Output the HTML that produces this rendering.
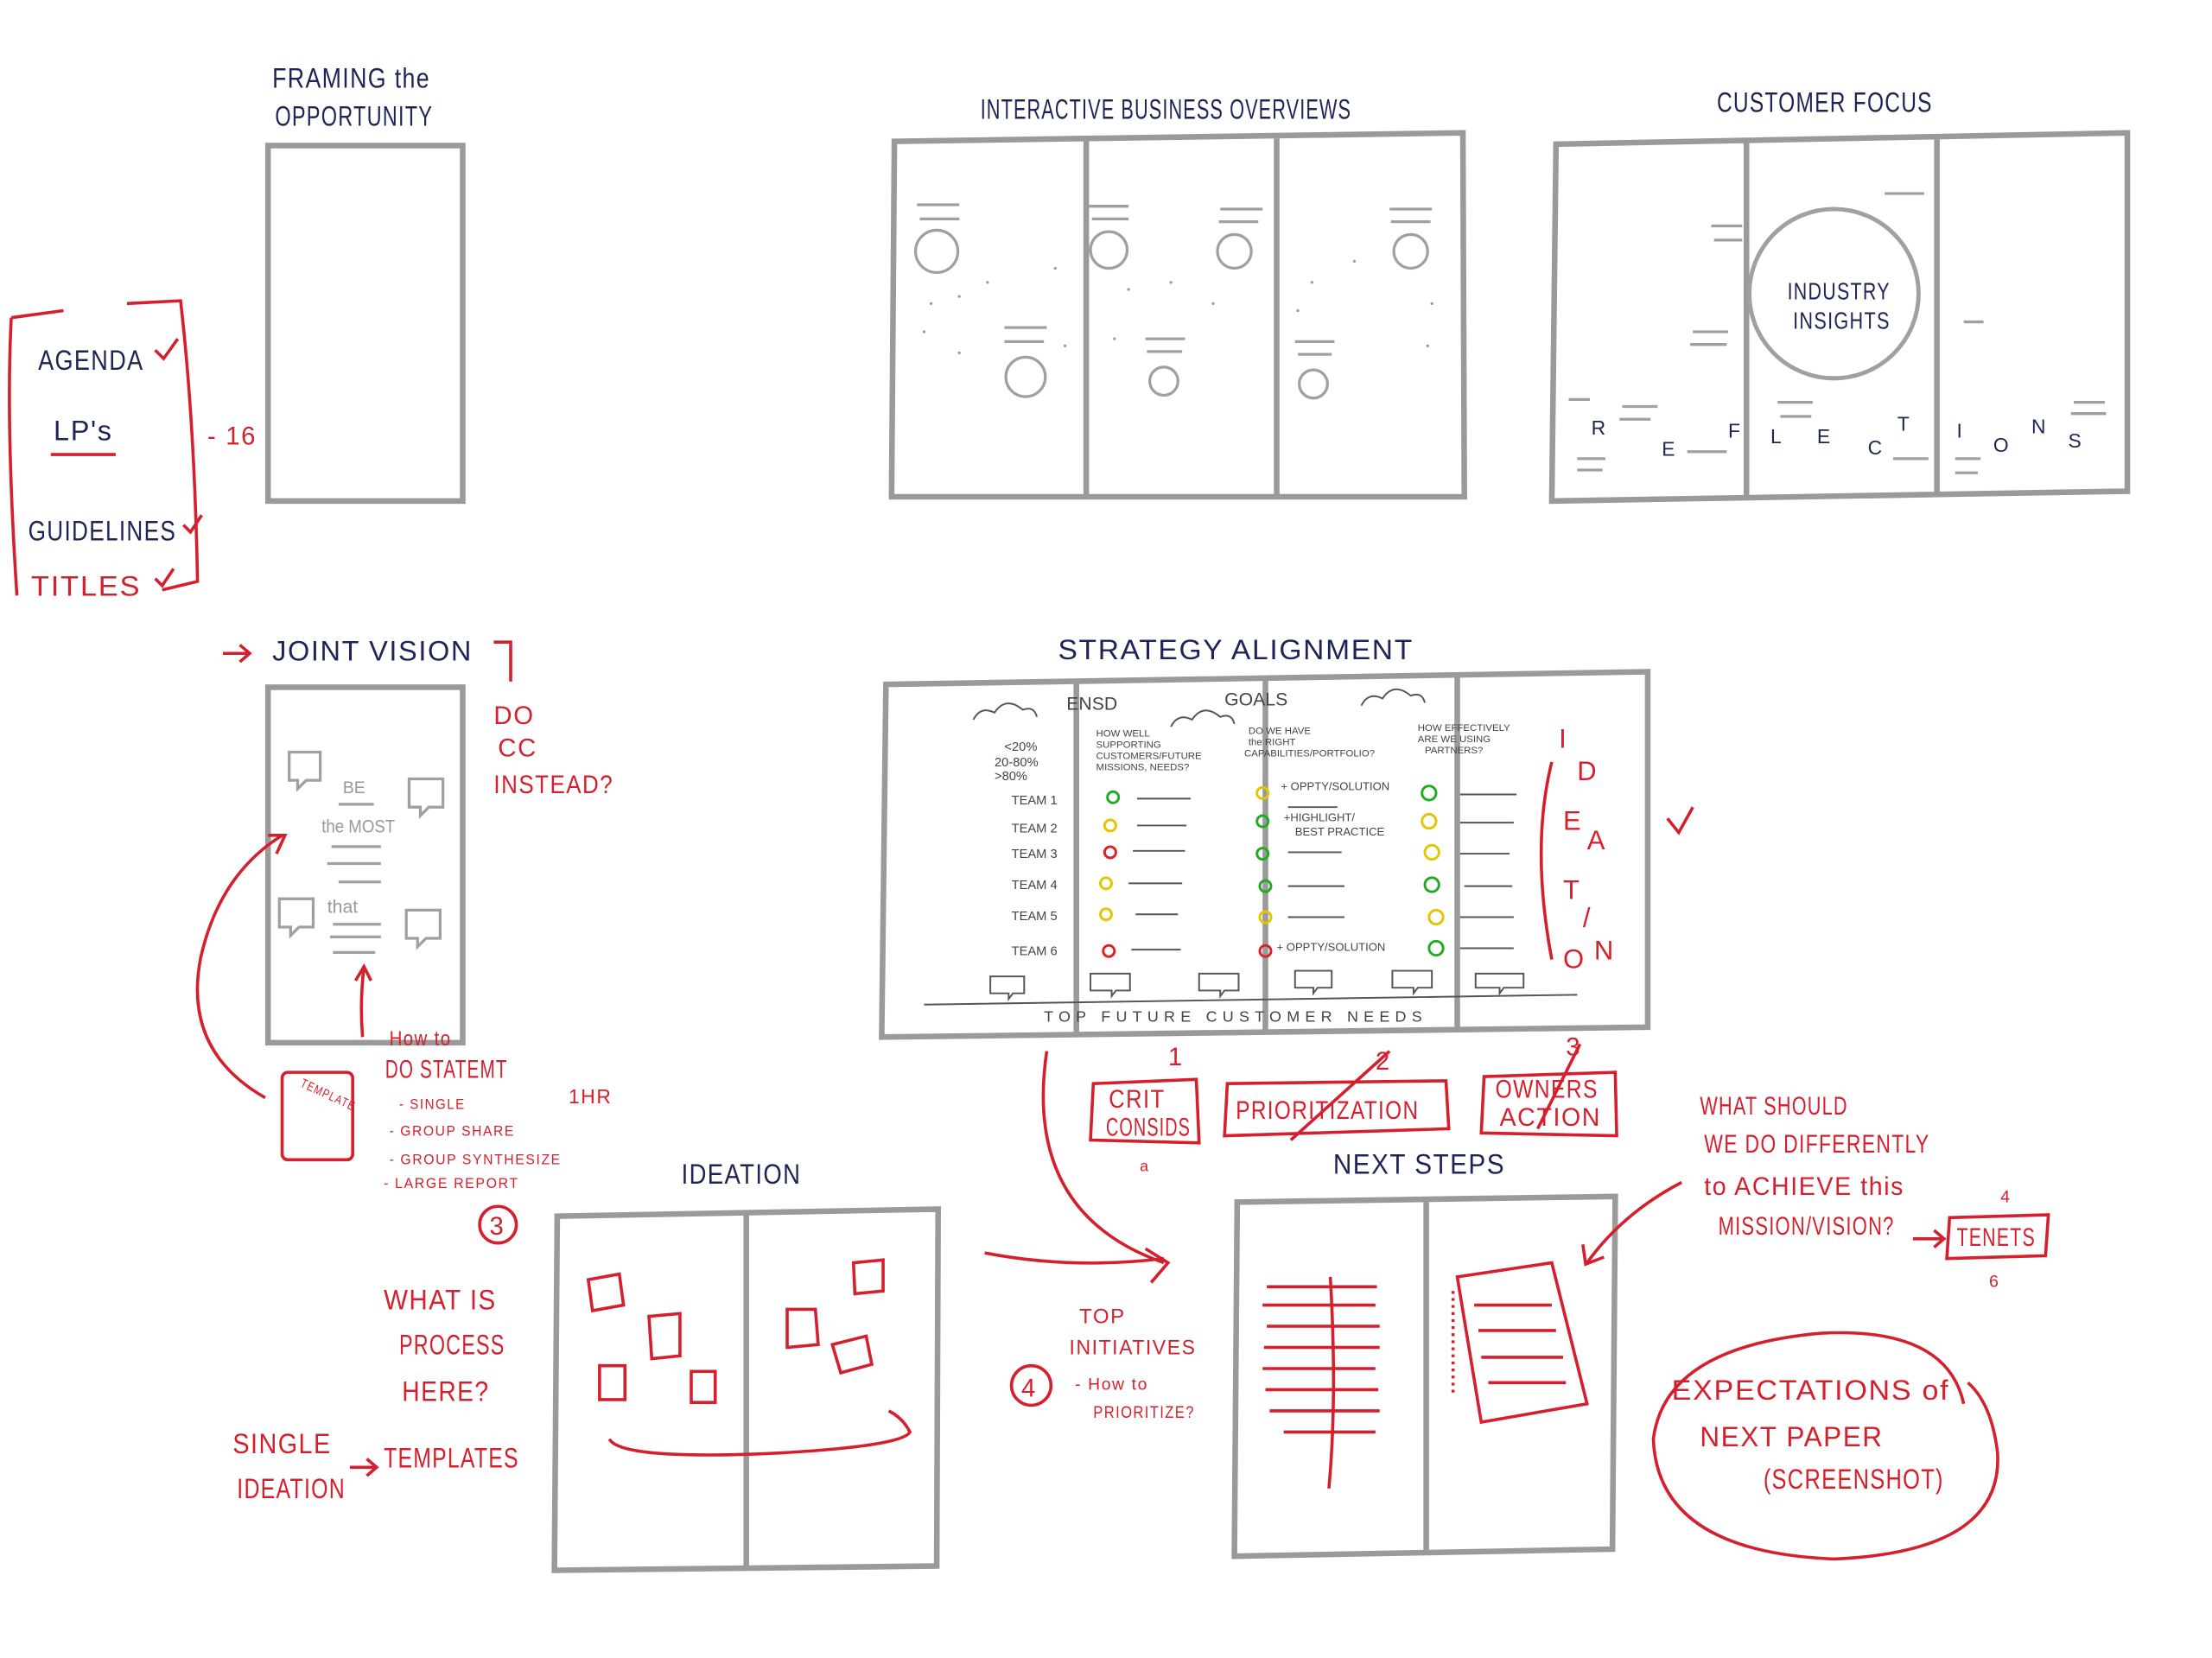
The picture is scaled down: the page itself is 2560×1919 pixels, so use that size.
<!DOCTYPE html>
<html><head><meta charset="utf-8"><style>
html,body{margin:0;padding:0;background:#fff;}
svg{display:block}
text{font-family:"Liberation Sans",sans-serif;}
.n{fill:#1d2458;font-size:20px;letter-spacing:1px}
.r{fill:#d61f2c;font-size:18px;letter-spacing:1px}
.g{fill:none;stroke:#9a9a9a;stroke-width:4}
.gl{fill:none;stroke:#a0a0a0;stroke-width:2}
.rl{fill:none;stroke:#d61f2c;stroke-width:2.2}
.k{fill:#444;font-size:9px}
</style></head><body>
<svg width="2560" height="1919" viewBox="0 0 1568 1175" xmlns="http://www.w3.org/2000/svg">
<!-- FRAMING -->
<text class="n" x="193" y="62" textLength="112" lengthAdjust="spacingAndGlyphs">FRAMING the</text>
<text class="n" x="195" y="89" textLength="112" lengthAdjust="spacingAndGlyphs">OPPORTUNITY</text>
<rect class="g" x="190" y="103" width="138" height="252"/>
<path class="rl" d="M8,225 Q4,300 12,422 M8,225 L45,220 M90,215 L128,213 Q138,300 140,412 L115,418"/>
<text class="n" x="27" y="262" textLength="75" lengthAdjust="spacingAndGlyphs">AGENDA</text><path class="rl" d="M110,248 l6,6 l10,-14"/>
<text class="n" x="38" y="312" textLength="42" lengthAdjust="spacingAndGlyphs">LP's</text><path class="rl" d="M36,322 h46"/>
<text class="n" x="20" y="383" textLength="105" lengthAdjust="spacingAndGlyphs">GUIDELINES</text><path class="rl" d="M130,372 l5,5 l8,-12"/>
<text class="r" x="22" y="422" style="font-size:20px" textLength="78" lengthAdjust="spacingAndGlyphs">TITLES</text><path class="rl" d="M110,410 l5,5 l8,-12"/>
<text class="r" x="147" y="315">- 16</text>
<!-- INTERACTIVE -->
<text class="n" x="695" y="84" textLength="263" lengthAdjust="spacingAndGlyphs">INTERACTIVE BUSINESS OVERVIEWS</text>
<path class="g" d="M634,100 L1037,94 L1038,352 L632,352 Z M770,100 V352 M905,98 V352"/>
<g class="gl">
<circle cx="664" cy="178" r="15"/><circle cx="786" cy="177" r="13"/><circle cx="875" cy="178" r="12"/><circle cx="1000" cy="178" r="12"/>
<circle cx="727" cy="267" r="14"/><circle cx="825" cy="270" r="10"/><circle cx="931" cy="272" r="10"/>
<path d="M650,145h30M652,155h28M772,146h28M774,155h26M865,148h30M864,157h28M985,148h30M986,157h28M712,232h30M712,242h28M812,240h28M813,249h25M918,242h28M920,251h24"/>
</g>
<g fill="#999"><circle cx="660" cy="215" r="1"/><circle cx="680" cy="210" r="1"/><circle cx="700" cy="200" r="1"/><circle cx="748" cy="190" r="1"/><circle cx="655" cy="235" r="1"/><circle cx="680" cy="250" r="1"/><circle cx="800" cy="205" r="1"/><circle cx="830" cy="200" r="1"/><circle cx="860" cy="215" r="1"/><circle cx="790" cy="240" r="1"/><circle cx="930" cy="200" r="1"/><circle cx="960" cy="185" r="1"/><circle cx="1015" cy="215" r="1"/><circle cx="920" cy="220" r="1"/><circle cx="1012" cy="245" r="1"/><circle cx="755" cy="245" r="1"/></g>
<!-- CUSTOMER FOCUS -->
<text class="n" x="1217" y="79" textLength="153" lengthAdjust="spacingAndGlyphs">CUSTOMER FOCUS</text>
<path class="g" d="M1103,102 L1508,94 L1508,348 L1100,355 Z M1238,100 V353 M1373,98 V350"/>
<circle class="gl" cx="1300" cy="208" r="60" style="stroke-width:3"/>
<text class="n" x="1267" y="212" style="font-size:17px" textLength="73" lengthAdjust="spacingAndGlyphs">INDUSTRY</text>
<text class="n" x="1271" y="233" style="font-size:17px" textLength="69" lengthAdjust="spacingAndGlyphs">INSIGHTS</text>
<g class="n" style="font-size:14px"><text x="1128" y="308">R</text><text x="1178" y="323">E</text><text x="1225" y="310">F</text><text x="1255" y="314">L</text><text x="1288" y="314">E</text><text x="1324" y="322">C</text><text x="1345" y="305">T</text><text x="1387" y="310">I</text><text x="1413" y="320">O</text><text x="1440" y="307">N</text><text x="1466" y="317">S</text></g>
<g class="gl"><path d="M1213,160h22M1215,170h20M1200,235h25M1198,244h26M1336,137h28M1392,228h14M1112,283h15M1150,288h25M1148,297h22M1118,325h20M1118,333h18M1196,320h28M1260,285h25M1262,295h22M1342,325h25M1386,325h18M1386,335h16M1470,285h22M1468,293h25"/></g>
<!-- JOINT VISION -->
<path class="rl" d="M158,463 h18 M170,457 l7,6 l-7,6"/>
<text class="n" x="193" y="468" textLength="142" lengthAdjust="spacingAndGlyphs">JOINT VISION</text>
<path class="rl" d="M350,455 h12 v28"/>
<rect class="g" x="190" y="487" width="138" height="252"/>
<g class="gl"><path d="M205,533h22v20h-10l-6,6v-6h-6z M290,552h24v20h-10l-6,6v-6h-8z M198,637h24v20h-10l-6,6v-6h-8z M288,645h24v20h-10l-6,6v-6h-8z"/>
<path d="M235,600h35M232,612h38M240,625h30M236,655h34M234,664h36M236,675h30M240,570h25"/></g>
<text x="243" y="562" style="font-size:12px;fill:#999">BE</text>
<text x="228" y="590" style="font-size:13px;fill:#999" textLength="52" lengthAdjust="spacingAndGlyphs">the MOST</text>
<text x="232" y="647" style="font-size:13px;fill:#999">that</text>
<text class="r" x="350" y="513">DO</text><text class="r" x="353" y="536">CC</text><text class="r" x="350" y="562" textLength="85" lengthAdjust="spacingAndGlyphs">INSTEAD?</text>
<path class="rl" d="M188,778 Q130,745 142,680 Q155,620 200,592 M190,592 l12,0 l-6,13"/>
<path class="rl" d="M257,735 Q255,710 258,685 M252,695 l6,-10 l5,10"/>
<rect class="rl" x="200" y="760" width="50" height="62" rx="4"/>
<text class="r" x="205" y="777" style="font-size:9px" transform="rotate(25 225 790)" textLength="42" lengthAdjust="spacingAndGlyphs">TEMPLATE</text>
<text class="r" x="276" y="741" style="font-size:15px" textLength="44" lengthAdjust="spacingAndGlyphs">How to</text>
<text class="r" x="273" y="764" textLength="87" lengthAdjust="spacingAndGlyphs">DO STATEMT</text>
<g class="r" style="font-size:10px"><text x="283" y="786" textLength="47" lengthAdjust="spacingAndGlyphs">- SINGLE</text><text x="276" y="805" textLength="89" lengthAdjust="spacingAndGlyphs">- GROUP SHARE</text><text x="276" y="825" textLength="122" lengthAdjust="spacingAndGlyphs">- GROUP SYNTHESIZE</text><text x="272" y="842" textLength="96" lengthAdjust="spacingAndGlyphs">- LARGE REPORT</text></g>
<text class="r" x="403" y="782" style="font-size:14px">1HR</text>
<circle class="rl" cx="353" cy="868" r="13"/><text class="r" x="347" y="875">3</text>
<!-- STRATEGY -->
<text class="n" x="750" y="467" textLength="252" lengthAdjust="spacingAndGlyphs">STRATEGY  ALIGNMENT</text>
<path class="g" d="M628,485 L1168,476 L1168,728 L625,735 Z M763,484 V735 M897,482 V733 M1033,480 V731"/>
<g class="gl" style="stroke:#555;stroke-width:1.2"><path d="M690,510 q5,-10 15,-5 q8,-12 20,-2 q8,-3 10,5 M830,515 q5,-10 15,-5 q8,-12 20,-2 q8,-3 10,5 M965,500 q5,-10 15,-5 q8,-12 20,-2 q8,-3 10,5 M655,712 L1118,705"/>
<path d="M806,566h38M806,585h35M803,603h37M800,626h38M805,648h30M802,673h35M1035,563h40M1035,583h38M1035,605h35M1038,628h34M1035,650h38M1035,672h38M913,604h38M913,628h40M913,650h40M913,572h35"/>
<path d="M702,692h24v12h-8l-3,4v-4h-13z M773,690h28v12h-10l-3,4v-4h-15z M850,690h28v12h-10l-3,4v-4h-15z M918,688h26v12h-10l-3,4v-4h-13z M987,688h28v12h-10l-3,4v-4h-15z M1046,690h34v10h-14l-3,4v-4h-17z"/></g>
<g class="k"><text x="756" y="503" style="font-size:13px">ENSD</text><text x="868" y="500" style="font-size:13px">GOALS</text>
<text x="712" y="532">&lt;20%</text><text x="705" y="543">20-80%</text><text x="705" y="553">&gt;80%</text>
<text x="777" y="522" style="font-size:7px">HOW WELL</text><text x="777" y="530" style="font-size:7px">SUPPORTING</text><text x="777" y="538" style="font-size:7px">CUSTOMERS/FUTURE</text><text x="777" y="546" style="font-size:7px">MISSIONS, NEEDS?</text>
<text x="885" y="520" style="font-size:7px">DO WE HAVE</text><text x="885" y="528" style="font-size:7px">the RIGHT</text><text x="882" y="536" style="font-size:7px">CAPABILITIES/PORTFOLIO?</text>
<text x="1005" y="518" style="font-size:7px">HOW EFFECTIVELY</text><text x="1005" y="526" style="font-size:7px">ARE WE USING</text><text x="1010" y="534" style="font-size:7px">PARTNERS?</text>
<text x="717" y="570">TEAM 1</text><text x="717" y="590">TEAM 2</text><text x="717" y="608">TEAM 3</text><text x="717" y="630">TEAM 4</text><text x="717" y="652">TEAM 5</text><text x="717" y="677">TEAM 6</text>
<text x="908" y="560" style="font-size:8px">+ OPPTY/SOLUTION</text><text x="910" y="582" style="font-size:8px">+HIGHLIGHT/</text><text x="918" y="592" style="font-size:8px">BEST PRACTICE</text><text x="905" y="674" style="font-size:8px">+ OPPTY/SOLUTION</text>
<text x="740" y="724" style="font-size:11px;letter-spacing:2px" textLength="270" lengthAdjust="spacing">TOP  FUTURE  CUSTOMER  NEEDS</text></g>
<g fill="none" stroke-width="1.8">
<circle cx="789" cy="565" r="4" stroke="#2a2"/><circle cx="787" cy="585" r="4" stroke="#e5c400"/><circle cx="787" cy="604" r="4" stroke="#d22"/><circle cx="784" cy="626" r="4" stroke="#e5c400"/><circle cx="784" cy="648" r="4" stroke="#e5c400"/><circle cx="786" cy="674" r="4" stroke="#d22"/>
<circle cx="895" cy="562" r="4" stroke="#e5c400"/><circle cx="895" cy="582" r="4" stroke="#2a2"/><circle cx="895" cy="605" r="4" stroke="#2a2"/><circle cx="897" cy="628" r="4" stroke="#2a2"/><circle cx="897" cy="650" r="4" stroke="#e5c400"/><circle cx="897" cy="674" r="4" stroke="#d22"/>
<circle cx="1013" cy="562" r="5" stroke="#2a2"/><circle cx="1013" cy="582" r="5" stroke="#e5c400"/><circle cx="1015" cy="604" r="5" stroke="#e5c400"/><circle cx="1015" cy="627" r="5" stroke="#2a2"/><circle cx="1018" cy="650" r="5" stroke="#e5c400"/><circle cx="1018" cy="672" r="5" stroke="#2a2"/></g>
<g class="r" style="font-size:19px"><text x="1105" y="530">I</text><text x="1118" y="553">D</text><text x="1108" y="588">E</text><text x="1125" y="602">A</text><text x="1108" y="637">T</text><text x="1122" y="657">/</text><text x="1108" y="686">O</text><text x="1130" y="680">N</text></g>
<path class="rl" d="M1100,540 Q1085,600 1100,680"/>
<path class="rl" d="M1182,580 l8,10 l10,-18"/>
<!-- action boxes -->
<text class="r" x="828" y="755">1</text><text class="r" x="975" y="758">2</text><text class="r" x="1110" y="748">3</text>
<path class="rl" d="M775,768 L848,765 L850,810 L773,808 Z"/>
<text class="r" x="786" y="785" textLength="40" lengthAdjust="spacingAndGlyphs">CRIT</text><text class="r" x="784" y="805" textLength="60" lengthAdjust="spacingAndGlyphs">CONSIDS</text><text class="r" x="808" y="830" style="font-size:11px">a</text>
<path class="rl" d="M870,768 L1025,766 L1027,800 L868,805 Z M915,808 L985,745"/>
<text class="r" x="876" y="793" textLength="130" lengthAdjust="spacingAndGlyphs">PRIORITIZATION</text>
<path class="rl" d="M1052,763 L1145,760 L1146,805 L1050,803 Z M1090,800 L1120,740"/>
<text class="r" x="1060" y="778" textLength="73" lengthAdjust="spacingAndGlyphs">OWNERS</text><text class="r" x="1063" y="798" textLength="72" lengthAdjust="spacingAndGlyphs">ACTION</text>
<path class="rl" d="M742,745 Q725,860 825,895 M812,885 l16,10 l-12,14"/>
<!-- IDEATION -->
<text class="n" x="483" y="839" textLength="85" lengthAdjust="spacingAndGlyphs">IDEATION</text>
<path class="g" d="M395,862 L665,857 L664,1110 L393,1113 Z M529,860 V1112"/>
<g class="rl"><path d="M417,907l22,-4l3,22l-22,4z M460,933l22,-2l0,30l-20,2z M425,968l18,0l0,24l-18,0z M490,972l17,0l0,22l-17,0z M605,895l21,-2l0,22l-20,2z M558,928l20,0l2,25l-22,2z M590,953l24,-6l4,20l-22,6z M432,1020 Q440,1035 550,1030 Q640,1025 645,1015 Q640,1005 630,1000"/></g>
<text class="r" x="272" y="928" style="font-size:20px" textLength="80" lengthAdjust="spacingAndGlyphs">WHAT IS</text><text class="r" x="283" y="960" style="font-size:20px" textLength="75" lengthAdjust="spacingAndGlyphs">PROCESS</text><text class="r" x="285" y="993" style="font-size:20px" textLength="62" lengthAdjust="spacingAndGlyphs">HERE?</text>
<text class="r" x="165" y="1030" style="font-size:20px" textLength="70" lengthAdjust="spacingAndGlyphs">SINGLE</text><text class="r" x="168" y="1062" style="font-size:20px" textLength="77" lengthAdjust="spacingAndGlyphs">IDEATION</text>
<path class="rl" d="M248,1040 h18 M260,1034 l7,6 l-7,6"/>
<text class="r" x="272" y="1040" style="font-size:20px" textLength="96" lengthAdjust="spacingAndGlyphs">TEMPLATES</text>
<path class="rl" d="M698,888 Q760,900 825,892"/>
<!-- NEXT STEPS -->
<text class="n" x="945" y="832" textLength="122" lengthAdjust="spacingAndGlyphs">NEXT STEPS</text>
<path class="g" d="M877,852 L1145,848 L1143,1098 L875,1103 Z M1011,850 V1100"/>
<g class="rl"><path d="M898,912h78M895,925h80M898,940h80M896,955h82M895,970h80M897,985h80M900,1000h78M910,1015h65M943,905 Q948,990 942,1055"/>
<path d="M1033,905 L1100,895 L1125,995 L1050,1008 Z"/>
<path d="M1045,925h55M1048,943h55M1050,962h58M1055,980h55"/>
<path d="M1030,915v75" stroke-dasharray="2,3"/>
<path d="M1192,838 Q1150,860 1125,895 M1122,882 l2,14 l13,-5"/></g>
<text class="r" x="765" y="938" style="font-size:15px" textLength="33" lengthAdjust="spacingAndGlyphs">TOP</text><text class="r" x="758" y="960" style="font-size:15px" textLength="90" lengthAdjust="spacingAndGlyphs">INITIATIVES</text>
<text class="r" x="762" y="985" style="font-size:12px" textLength="52" lengthAdjust="spacingAndGlyphs">- How to</text><text class="r" x="775" y="1005" style="font-size:12px" textLength="72" lengthAdjust="spacingAndGlyphs">PRIORITIZE?</text>
<circle class="rl" cx="731" cy="982" r="14"/><text class="r" x="724" y="990">4</text>
<text class="r" x="1205" y="790" textLength="105" lengthAdjust="spacingAndGlyphs">WHAT SHOULD</text><text class="r" x="1208" y="817" textLength="160" lengthAdjust="spacingAndGlyphs">WE DO DIFFERENTLY</text>
<text class="r" x="1208" y="847" textLength="142" lengthAdjust="spacingAndGlyphs">to ACHIEVE this</text><text class="r" x="1218" y="875" textLength="125" lengthAdjust="spacingAndGlyphs">MISSION/VISION?</text>
<path class="rl" d="M1356,878 h22 M1371,872 l7,6 l-7,6"/>
<text class="r" x="1418" y="852" style="font-size:12px">4</text>
<path class="rl" d="M1382,863 L1452,861 L1450,890 L1380,892 Z"/>
<text class="r" x="1387" y="883" textLength="56" lengthAdjust="spacingAndGlyphs">TENETS</text>
<text class="r" x="1410" y="912" style="font-size:12px">6</text>
<path class="rl" d="M1392,995 Q1380,940 1290,945 Q1180,955 1172,1020 Q1175,1100 1300,1105 Q1420,1100 1416,1030 Q1412,995 1395,980"/>
<text class="r" x="1185" y="992" style="font-size:20px" textLength="197" lengthAdjust="spacingAndGlyphs">EXPECTATIONS of</text>
<text class="r" x="1205" y="1025" style="font-size:20px" textLength="130" lengthAdjust="spacingAndGlyphs">NEXT PAPER</text>
<text class="r" x="1250" y="1055" style="font-size:20px" textLength="128" lengthAdjust="spacingAndGlyphs">(SCREENSHOT)</text>
</svg>
</body></html>
